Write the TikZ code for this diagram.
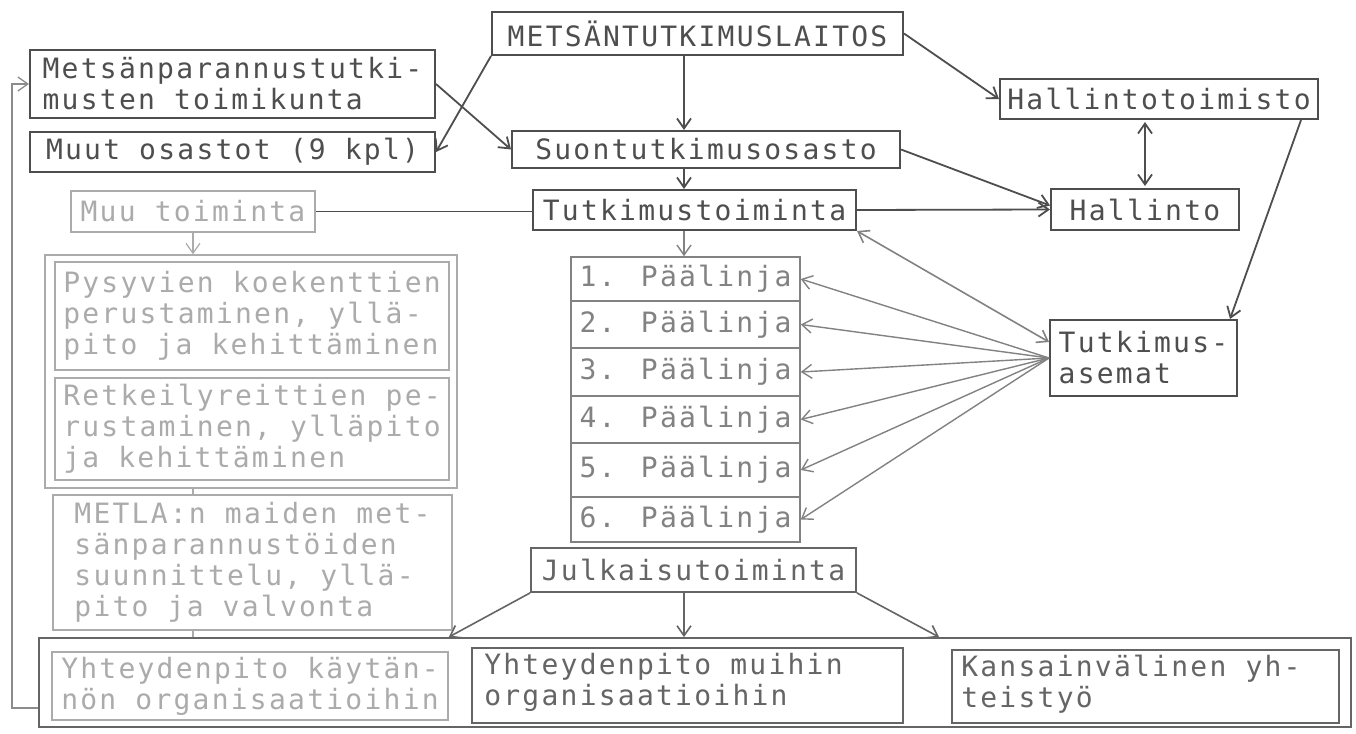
\documentclass[tikz,border=0pt]{standalone}
\usepackage{fontspec}
\newfontfamily\tw[LetterSpace=8]{DejaVu Sans Mono}
\usetikzlibrary{arrows.meta,calc}
\definecolor{dk}{HTML}{4E4E4E}
\definecolor{md}{HTML}{656565}
\definecolor{pl}{HTML}{828282}
\definecolor{lt}{HTML}{ABABAB}
\definecolor{fbc}{HTML}{8C8C8C}
\begin{document}
\begin{tikzpicture}[x=1pt,y=-1pt,
  font=\tw\fontsize{28}{31}\selectfont,
  bx/.style={draw, inner sep=4pt, align=left, anchor=center},
  dkb/.style={bx, draw=dk, text=dk, line width=2pt},
  mdb/.style={bx, draw=md, text=md, line width=1.8pt},
  plb/.style={bx, draw=pl, text=pl, line width=1.5pt},
  ltb/.style={bx, draw=lt, text=lt, line width=1.4pt},
  ar/.style={-{Straight Barb[length=10pt,width=14pt]}},
  dar/.style={{Straight Barb[length=10pt,width=14pt]}-{Straight Barb[length=10pt,width=14pt]}},
  dka/.style={dk, line width=1.8pt, ar},
  dkd/.style={dk, line width=1.8pt, dar},
  mda/.style={md, line width=1.6pt, ar},
  pla/.style={pl, line width=1.4pt, ar},
  pld/.style={pl, line width=1.6pt, dar},
  lta/.style={lt, line width=1.2pt, ar},
  ltl/.style={lt, line width=1.2pt}
]
\fill[white] (0,0) rectangle (1356,733);
\useasboundingbox (0,0) rectangle (1356,733);

% main column
\node[dkb, minimum width=411, minimum height=43] (lait) at (697.5,33.5) {METSÄNTUTKIMUSLAITOS};
\node[dkb, minimum width=405, minimum height=68] (toimi) at (232.5,84) {Metsänparannustutki-\\musten toimikunta};
\node[dkb, minimum width=405, minimum height=40] (muut) at (232.5,152) {Muut osastot (9 kpl)};
\node[dkb, minimum width=388, minimum height=37] (suon) at (706,149.5) {Suontutkimusosasto};
\node[dkb, minimum width=318, minimum height=40] (hto) at (1159,99) {Hallintotoimisto};
\node[dkb, minimum width=188, minimum height=41] (hall) at (1145,209.5) {Hallinto};
\node[dkb, minimum width=323, minimum height=40] (tutk) at (694.5,210) {Tutkimustoiminta};
\node[dkb, minimum width=187, minimum height=76] (asemat) at (1143.5,358) {Tutkimus-\\asemat};

% left column
\node[ltb, minimum width=244, minimum height=41] (muu) at (193,211.5) {Muu toiminta};
\node[ltb, minimum width=412, minimum height=233] (og) at (251,371.5) {};
\node[ltb, minimum width=394, minimum height=108] (pys) at (252,316) {Pysyvien koekenttien\\perustaminen, yllä-\\pito ja kehittäminen};
\node[ltb, minimum width=394, minimum height=102] (retk) at (252,429) {Retkeilyreittien pe-\\rustaminen, ylläpito\\ja kehittäminen};
\node[ltb, minimum width=399, minimum height=135] (metla) at (252.5,562.5) {METLA:n maiden met-\\sänparannustöiden\\suunnittelu, yllä-\\pito ja valvonta};

% Päälinja stack
\node[plb, minimum width=229, minimum height=44] (pl1) at (685.5,279) {1. Päälinja};
\node[plb, minimum width=229, minimum height=47] (pl2) at (685.5,324.5) {2. Päälinja};
\node[plb, minimum width=229, minimum height=48] (pl3) at (685.5,372) {3. Päälinja};
\node[plb, minimum width=229, minimum height=47] (pl4) at (685.5,419.5) {4. Päälinja};
\node[plb, minimum width=229, minimum height=54] (pl5) at (685.5,470) {5. Päälinja};
\node[plb, minimum width=229, minimum height=45] (pl6) at (685.5,519.5) {6. Päälinja};

% bottom
\node[mdb, minimum width=325, minimum height=44] (julk) at (693.5,570) {Julkaisutoiminta};
\node[mdb, minimum width=1312, minimum height=89] (bo) at (695,682.5) {};
\node[ltb, minimum width=396, minimum height=68] (ykayt) at (250,686) {Yhteydenpito käytän-\\nön organisaatioihin};
\node[mdb, minimum width=431, minimum height=75] (ymuih) at (687.5,685.5) {};
\node[text=md, align=left, inner sep=0pt, anchor=west] (ymuihT) at ($(ymuih.west)+(13,-3)$) {Yhteydenpito muihin\\organisaatioihin};
\node[mdb, minimum width=387, minimum height=73] (kv) at (1145.5,686.5) {};
\node[text=md, align=left, inner sep=0pt, anchor=west] (kvT) at ($(kv.west)+(10,-2)$) {Kansainvälinen yh-\\teistyö};

% helper coordinates
\coordinate (spine) at (684,0);
\coordinate (fb) at (12,708);
\coordinate (kvx) at ($(kv.north west)+(-12,0)$);

% connectors
\draw[dka] (lait.south -| spine) -- (suon.north -| spine);
\draw[dka] (suon.south -| spine) -- (tutk.north -| spine);
\draw[pla] (tutk.south -| spine) -- (pl1.north -| spine);
\draw[dka] (lait.south west) -- (muut.east);
\draw[dka] (toimi.east) -- (suon.west);
\draw[dka] (lait.east) -- (hto.west);
\draw[dkd, shorten <=2pt, shorten >=2pt] (hto.south -| hall) -- (hall.north);
\draw[dka] (suon.east) -- ($(hall.west)+(0,-4)$);
\draw[dka] (tutk.east) -- (hall.west);
\draw[dk, line width=1.4pt] (muu.east) -- (muu.east -| tutk.west);
\draw[dka] ($(hto.south east)+(-18,0)$) -- ($(asemat.north east)+(-8,0)$);
\draw[pld] (tutk.south east) -- ($(asemat.west)+(0,-16)$);
\foreach \i in {1,...,6} \draw[pla] (asemat.west) -- (pl\i.east);
\draw[mda] (julk.south west) -- (bo.north -| ykayt.north east);
\draw[mda] (julk.south -| spine) -- (bo.north -| spine);
\draw[mda] (julk.south east) -- (kvx |- bo.north);
\draw[lta] (muu.south) -- (muu.south |- og.north);
\draw[ltl] (og.south -| muu) -- (metla.north -| muu);
\draw[ltl] (metla.south -| muu) -- (bo.north -| muu);
\draw[fbc, line width=1.3pt, ar] (bo.west |- fb) -- (fb) |- (toimi.west);
\end{tikzpicture}
\end{document}
